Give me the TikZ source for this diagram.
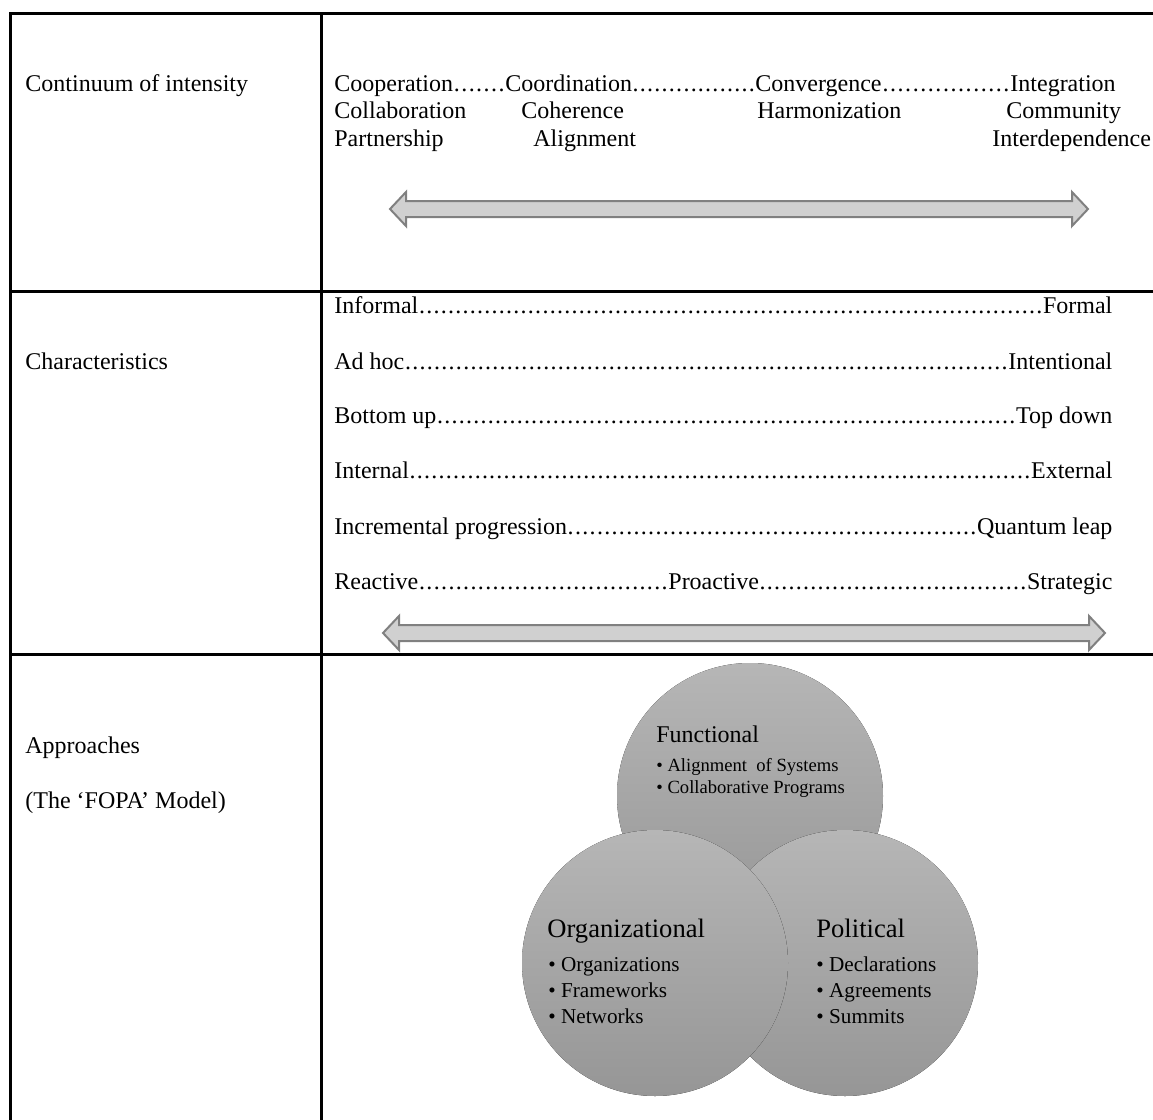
\documentclass[tikz,border=0pt]{standalone}
\usepackage{fontspec}
\setmainfont{Liberation Serif}
\newcommand\dotlead{\xleaders\hbox to 0.3em{\hss.\hss}\hfill}
\definecolor{gridline}{RGB}{0,0,0}
\definecolor{arrfill}{RGB}{208,208,208}
\definecolor{arredge}{RGB}{128,128,128}
\definecolor{circtop}{RGB}{182,182,182}
\definecolor{circbot}{RGB}{150,150,150}
\begin{document}
\begin{tikzpicture}[x=0.5pt,y=-0.5pt,
  txt/.style={inner sep=0pt,anchor=base west,font=\fontsize{12pt}{14pt}\selectfont},
  circ/.style={top color=circtop,bottom color=circbot,draw=none},
  bigt/.style={inner sep=0pt,anchor=base west,font=\fontsize{13.3pt}{16pt}\selectfont},
  midt/.style={inner sep=0pt,anchor=base west,font=\fontsize{12pt}{14pt}\selectfont},
  bul/.style={inner sep=0pt,anchor=base west,font=\fontsize{10.6pt}{12pt}\selectfont},
  sbul/.style={inner sep=0pt,anchor=base west,font=\fontsize{9.3pt}{11pt}\selectfont},
  blockarrow/.style={fill=arrfill,draw=arredge,line width=1pt,line join=miter},
  rule/.style={draw=gridline,line width=1.5pt}]
\useasboundingbox (0,0) rectangle (1153,1120);
% table
\draw[rule] (1153,13) -- (10,13) -- (10,1120);
\draw[rule] (321,13) -- (321,1120);
\draw[rule] (10,291) -- (1153,291);
\draw[rule] (10,654) -- (1153,654);
% left column
\node[txt] (l1) at (25,91) {Continuum of intensity};
\node[txt] (l2) at (25,369) {Characteristics};
\node[txt] (l3) at (25,753) {Approaches};
\node[txt] (l4) at (25,808) {(The ‘FOPA’ Model)};
% row 1
\node[txt] (r1a) at (334,91) {\hbox to 85.5pt{Cooperation\dotlead}\hbox to 125pt{Coordination\dotlead}\hbox to 127.5pt{Convergence\dotlead}Integration};
\node[txt] (r1b) at (334,118) {Collaboration};
\node[txt] (r1c) at (521,118) {Coherence};
\node[txt] (r1d) at (757,118) {Harmonization};
\node[txt] (r1e) at (1006,118) {Community};
\node[txt] (r1f) at (334,146) {Partnership};
\node[txt] (r1g) at (533,146) {Alignment};
\node[txt] (r1h) at (992,146) {Interdependence};
\draw[blockarrow] (390,209) -- (406,192) -- (406,201) -- (1072,201) -- (1072,192) -- (1088,209) -- (1072,226) -- (1072,217) -- (406,217) -- (406,226) -- cycle;
% row 2
\node[txt] (c1) at (334,313) {\hbox to 389pt{Informal\dotlead Formal}};
\node[txt] (c2) at (334,369) {\hbox to 389pt{Ad hoc\dotlead Intentional}};
\node[txt] (c3) at (334,423) {\hbox to 389pt{Bottom up\dotlead Top down}};
\node[txt] (c4) at (334,478) {\hbox to 389pt{Internal\dotlead External}};
\node[txt] (c5) at (334,534) {\hbox to 389pt{Incremental progression\dotlead Quantum leap}};
\node[txt] (c6) at (334,589) {\hbox to 389pt{\hbox to 167pt{Reactive\dotlead}Proactive\dotlead Strategic}};
\draw[blockarrow] (383,633) -- (399,616) -- (399,625) -- (1089,625) -- (1089,616) -- (1105,633) -- (1089,650) -- (1089,641) -- (399,641) -- (399,650) -- cycle;
% row 3 circles
\fill[circ] (750,796) circle[radius=133];
\fill[circ] (845,963) circle[radius=133];
\fill[circ] (655,963) circle[radius=133];
\node[midt] (f0) at (656,742) {Functional};
\node[sbul] (f1) at (656,771) {• Alignment\ \ of Systems};
\node[sbul] (f2) at (656,793) {• Collaborative Programs};
\node[bigt] (o0) at (547,937) {Organizational};
\node[bul] (o1) at (548,971) {• Organizations};
\node[bul] (o2) at (548,997) {• Frameworks};
\node[bul] (o3) at (548,1023) {• Networks};
\node[bigt] (p0) at (816,937) {Political};
\node[bul] (p1) at (816,971) {• Declarations};
\node[bul] (p2) at (816,997) {• Agreements};
\node[bul] (p3) at (816,1023) {• Summits};
\end{tikzpicture}
\end{document}
